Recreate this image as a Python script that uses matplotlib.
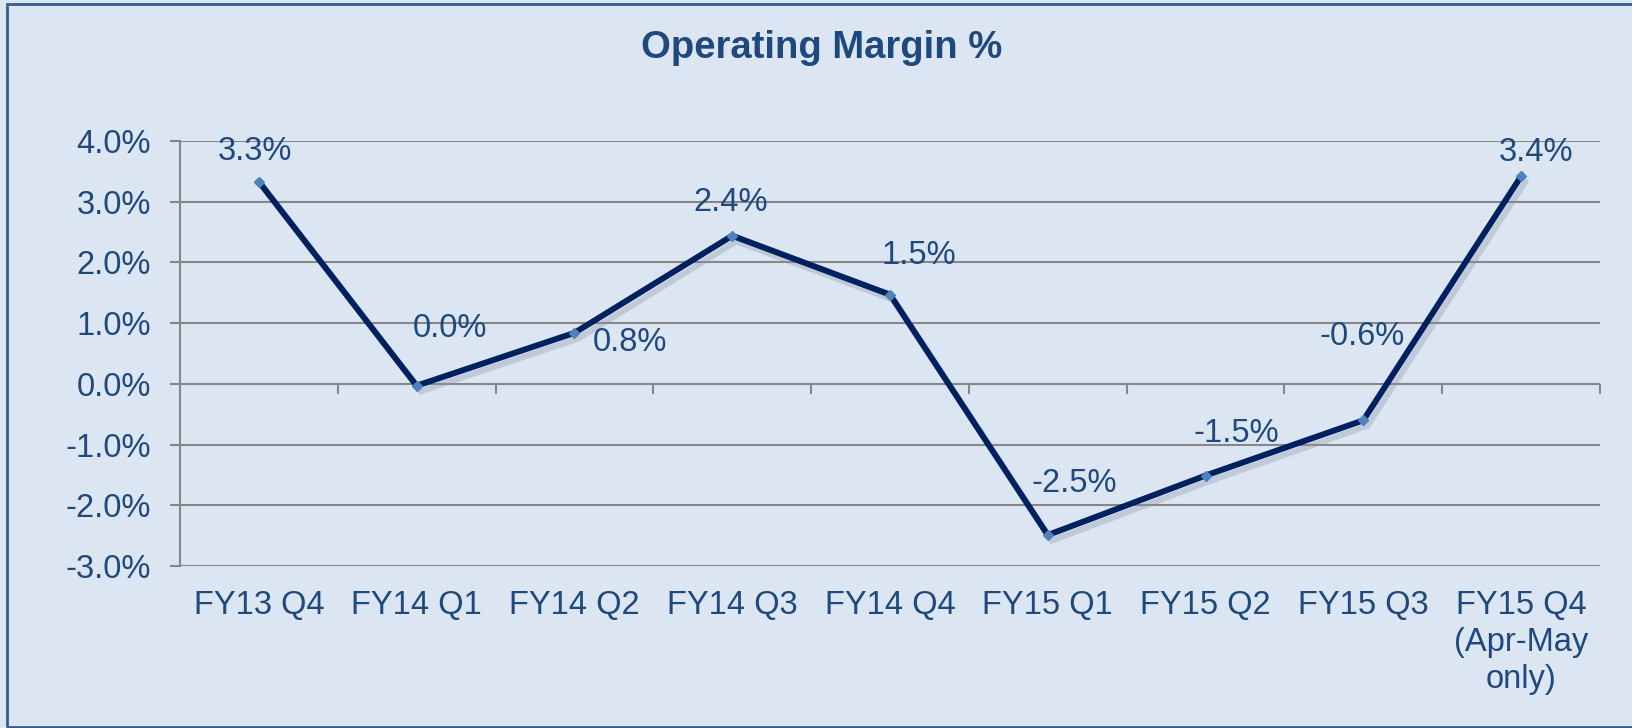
import matplotlib
matplotlib.use("Agg")
import matplotlib.pyplot as plt
import matplotlib.patheffects as pe
from matplotlib.patches import Rectangle
from matplotlib.ticker import FuncFormatter, FixedLocator

categories = ["FY13 Q4", "FY14 Q1", "FY14 Q2", "FY14 Q3", "FY14 Q4",
              "FY15 Q1", "FY15 Q2", "FY15 Q3", "FY15 Q4\n(Apr-May\nonly)"]
margin = [3.33, -0.03, 0.84, 2.44, 1.47, -2.49, -1.51, -0.60, 3.42]
labels = ["3.3%", "0.0%", "0.8%", "2.4%", "1.5%", "-2.5%", "-1.5%", "-0.6%", "3.4%"]
label_offsets = [(-3, 22), (24, 41), (40, -7), (-1, 24), (21, 28), (19, 37), (22, 30), (-1, 60), (11, 17)]

BG = "#DCE6F2"
TXT = "#1F497D"
LINE = "#002060"
GRID = "#868686"

plt.rcParams['font.family'] = ['Liberation Sans', 'DejaVu Sans']

fig = plt.figure(figsize=(16.32, 7.28), dpi=100, facecolor=BG)
ax = fig.add_axes([180 / 1632, 0.2225, (1600 - 180) / 1632, 0.8063 - 0.2225])
ax.set_facecolor(BG)

fig.patches.append(Rectangle((7 / 1632, 1 / 728), 1.0, 1 - 5 / 728, transform=fig.transFigure,
                             fill=False, edgecolor="#385D8A", linewidth=2))

x = list(range(len(categories)))
ax.plot(x, margin, color=LINE, linewidth=4.3, solid_joinstyle='miter', zorder=3,
        path_effects=[pe.SimpleLineShadow(offset=(3, -4), shadow_color='#8a95a5', alpha=0.35, rho=1.0),
                      pe.Normal()])
ax.plot(x, margin, linestyle='none', marker='D', markersize=5.5, color='#4F81BD', zorder=4)

for xi, yi, lab, (dx, dy) in zip(x, margin, labels, label_offsets):
    ax.annotate(lab, (xi, yi), xytext=(dx, dy), textcoords='offset points',
                ha='center', va='center', fontsize=23.5, color=TXT, zorder=5)

ax.set_xlim(-0.5, len(categories) - 0.5)
ax.set_ylim(-3, 4)
ax.set_yticks([-3, -2, -1, 0, 1, 2, 3, 4])
ax.yaxis.set_major_formatter(FuncFormatter(lambda v, p: f"{v:.1f}%"))
ax.yaxis.grid(True, color=GRID, linewidth=1.5)
ax.set_axisbelow(True)

ax.set_xticks(x)
ax.set_xticklabels(categories, fontsize=23.5, color=TXT, linespacing=1.26, va='top')
ax.tick_params(axis='x', length=0, pad=17)
ax.tick_params(axis='y', length=7, width=1.5, color=GRID, labelsize=23.5, labelcolor=TXT, pad=14)

for s in ['top', 'right', 'bottom']:
    ax.spines[s].set_visible(False)
ax.spines['left'].set_color(GRID)
ax.spines['left'].set_linewidth(1.5)

# category axis line at zero with boundary tick marks
sec = ax.secondary_xaxis(3 / 7)
sec.xaxis.set_major_locator(FixedLocator([i - 0.5 for i in range(len(categories) + 1)]))
sec.set_xticklabels([])
sec.tick_params(axis='x', direction='out', length=7, width=1.5, color=GRID)
sec.spines['bottom'].set_visible(False)
sec.spines['top'].set_visible(False)
sec.xaxis.set_ticks_position('bottom')

fig.text(822 / 1632, 1 - 48 / 728, "Operating Margin %", ha='center', va='center',
         fontsize=27.5, fontweight='bold', color=TXT)

fig.savefig("out.png", dpi=100, facecolor=BG)
